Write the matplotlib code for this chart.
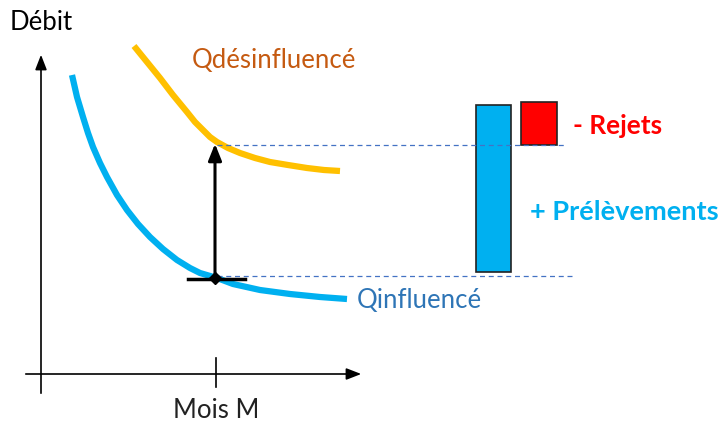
import matplotlib.pyplot as plt

plt.rcParams['font.family'] = ['Lato', 'DejaVu Sans']

# schéma : coordonnées en pixels du dessin, y vers le haut
H = 423
q_influence_x = [72, 77, 83, 88, 93, 100, 107, 117, 127, 138, 150, 163, 177, 190, 200, 217, 233, 260, 290, 320, 347]
q_influence_y = [75, 97, 117, 133, 147, 163, 177, 195, 210, 224, 237, 249, 260, 268, 273, 278, 284, 290, 294, 297, 299]
q_desinf_x = [134, 147, 160, 173, 187, 195, 203, 210, 217, 228, 240, 255, 270, 288, 307, 324, 340]
q_desinf_y = [46, 62, 78, 95, 112, 122, 130, 137, 142, 148, 153, 158, 162, 165, 168, 170, 171]

mois_x = 215
barre_prel = (476, 511, 105, 272)   # x0, x1, haut, bas
barre_rejets = (521, 557, 102, 145)

fig = plt.figure(figsize=(7.23, 4.23), dpi=100)
ax = fig.add_axes([0, 0, 1, 1])
ax.set_xlim(0, 723)
ax.set_ylim(0, H)
ax.axis('off')

def y(v):
    return H - v

# axes du graphe
ax.annotate('', xy=(41, y(52)), xytext=(41, y(396)),
            arrowprops=dict(arrowstyle='-|>,head_length=0.9,head_width=0.35', color='black', lw=1.2))
ax.annotate('', xy=(364, y(374)), xytext=(23, y(374)),
            arrowprops=dict(arrowstyle='-|>,head_length=0.9,head_width=0.35', color='black', lw=1.2))
ax.plot([216, 216], [y(358), y(387)], color='black', lw=1.2)

# courbes
ax.plot(q_influence_x, [y(v) for v in q_influence_y], color='#00B0F0', lw=4.5,
        solid_capstyle='butt', solid_joinstyle='round')
ax.plot(q_desinf_x, [y(v) for v in q_desinf_y], color='#FFC000', lw=4.5,
        solid_capstyle='butt', solid_joinstyle='round')

# lignes pointillées
ax.plot([217, 565], [y(145), y(145)], color='#4472C4', lw=0.9, dashes=(4, 3))
ax.plot([217, 572], [y(276), y(276)], color='#4472C4', lw=0.9, dashes=(4, 3))

# flèche verticale
ax.annotate('', xy=(mois_x, y(141)), xytext=(mois_x, y(278)),
            arrowprops=dict(arrowstyle='-|>,head_length=1.0,head_width=0.4', color='black', lw=2.2))
ax.plot([188, 245], [y(279), y(279)], color='black', lw=2.5)
ax.plot([mois_x], [y(278)], marker='D', color='black', markersize=6)

# barres
for (x0, x1, top, bot), c in [(barre_prel, '#00B0F0'), (barre_rejets, '#FF0000')]:
    ax.add_patch(plt.Rectangle((x0, y(bot)), x1 - x0, bot - top,
                               facecolor=c, edgecolor='#222222', lw=1.2))

# textes
ax.text(10, y(22), 'Débit', fontsize=18.5, color='black', va='center', ha='left')
ax.text(192, y(60), 'Qdésinfluencé', fontsize=18.5, color='#C55A11', va='center', ha='left')
ax.text(357, y(300), 'Qinfluencé', fontsize=18.5, color='#2E75B6', va='center', ha='left')
ax.text(573, y(126), '- Rejets', fontsize=19, color='#FF0000', fontweight='bold', va='center', ha='left')
ax.text(530, y(212), '+ Prélèvements', fontsize=19.5, color='#00B0F0', fontweight='bold', va='center', ha='left')
ax.text(216, y(410), 'Mois M', fontsize=18.5, color='#222222', va='center', ha='center')

fig.savefig('out.png', dpi=100)
